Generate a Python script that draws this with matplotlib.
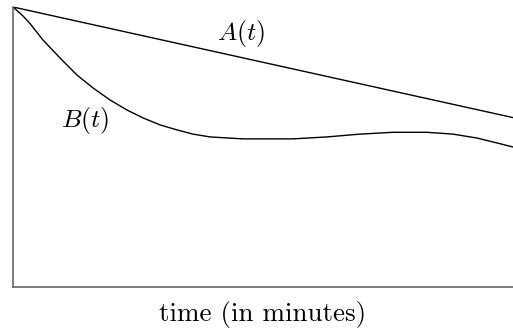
import numpy as np
import matplotlib
matplotlib.use("Agg")
import matplotlib.pyplot as plt

plt.rcParams['mathtext.fontset'] = 'cm'

# time axis (minutes)
t_a = [0.0, 10.0]
a_vals = [1.0, 0.605]

t_b = [0.0, 0.2, 0.34, 0.6, 0.94, 1.28, 1.6, 1.94, 2.28, 2.6, 2.94, 3.28, 3.6, 3.94,
       4.6, 4.94, 5.6, 6.28, 6.94, 7.6, 8.28, 8.8, 9.28, 9.6, 10.0]
b_vals = [1.0, 0.968, 0.941, 0.882, 0.818, 0.757, 0.711, 0.668, 0.632, 0.604, 0.579, 0.561, 0.546, 0.536,
          0.529, 0.529, 0.529, 0.536, 0.546, 0.5525, 0.5525, 0.546, 0.532, 0.518, 0.5]

fig = plt.figure(figsize=(5.13, 3.29), dpi=100)
ax = fig.add_axes([13/513, 42/329, 500/513, 280/329])

ax.plot(t_a, a_vals, color='black', lw=1.0)
ax.plot(t_b, b_vals, color='black', lw=1.0, solid_joinstyle='round')

ax.text(4.56, 0.905, r'$A(t)$', fontsize=18.5, ha='center', va='center')
ax.text(1.44, 0.596, r'$B(t)$', fontsize=18.5, ha='center', va='center')

ax.set_xlim(0, 10)
ax.set_ylim(0, 1)
ax.set_xticks([])
ax.set_yticks([])
for side in ['top', 'right']:
    ax.spines[side].set_visible(False)
for side in ['left', 'bottom']:
    ax.spines[side].set_color('#666666')
    ax.spines[side].set_linewidth(1.2)

ax.set_xlabel('time (in minutes)', fontfamily='cmr10', fontsize=19.5, labelpad=10)

fig.savefig('out.png', dpi=100)
